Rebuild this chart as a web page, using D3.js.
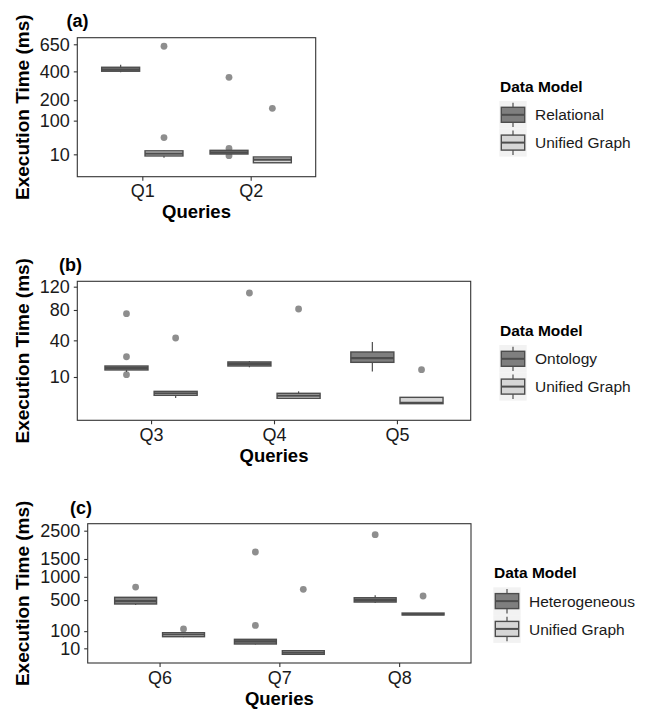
<!DOCTYPE html>
<html>
<head>
<meta charset="utf-8">
<script src="https://cdn.jsdelivr.net/npm/d3@7"></script>
<style>
  body { margin: 0; background: #fff; }
  text { font-family: "Liberation Sans", Arial, sans-serif; }
</style>
</head>
<body>
<svg id="chart" width="646" height="710"></svg>
<script>
// ---- panel (a) ----
const queriesA = ["Q1", "Q2"];
const modelsA = ["Relational", "Unified Graph"];
// per query, per model: [lower whisker, q1, median, q3, upper whisker]
const statsA = [
  [[393, 401, 415, 434, 456], [6.1, 8, 11, 15, 15]],
  [[10.4, 10.4, 12.5, 15.8, 15.8], [2.1, 2.1, 4.3, 6.9, 6.9]]
];
const outliersA = [
  [[], [630, 43]],
  [[353, 19, 8.3], [156]]
];
const ticksA = [10, 100, 200, 400, 650];

// ---- panel (b) ----
const queriesB = ["Q3", "Q4", "Q5"];
const modelsB = ["Ontology", "Unified Graph"];
const statsB = [
  [[12.9, 14.2, 15.5, 16.9, 16.9], [1.8, 2.5, 3.1, 3.7, 3.7]],
  [[16, 16.9, 18.5, 19.9, 20.6], [1.75, 1.75, 2.4, 3.08, 3.7]],
  [[13.3, 19.6, 23, 28.3, 38.2], [0.74, 0.74, 0.85, 1.98, 1.98]]
];
const outliersB = [
  [[74.4, 24.1, 11.3], [42.6]],
  [[108.4], [81.5]],
  [[], [14.4]]
];
const ticksB = [10, 40, 80, 120];

// ---- panel (c) ----
const queriesC = ["Q6", "Q7", "Q8"];
const modelsC = ["Heterogeneous", "Unified Graph"];
const statsC = [
  [[416, 433, 484, 551, 551], [58, 60.7, 75, 88, 88]],
  [[22, 23.8, 35, 45.5, 45.5], [0.6, 0.6, 2, 4.9, 6]],
  [[450, 466, 500, 543, 589], [270, 270, 282, 296, 296]]
];
const outliersC = [
  [[760], [118]],
  [[1723, 151], [711]],
  [[2343], [576]]
];
const ticksC = [10, 100, 500, 1000, 1500, 2500];

const fills = ["#7f7f7f", "#d6d6d6"];
const lineColor = "#4d4d4d";

const svg = d3.select("#chart");

function drawPanel(o) {
  const g = svg.append("g");

  const x = d3.scalePoint()
    .domain(o.queries)
    .range([o.left, o.right])
    .padding(0.6);
  const step = x.step();
  const dodge = d3.scaleBand()
    .domain(o.models)
    .range([-0.375 * step, 0.375 * step])
    .paddingInner(0.125);

  const y = d3.scaleSqrt()
    .domain(o.yDomain)
    .range([o.bottom, o.top]);

  // boxes
  o.queries.forEach((q, qi) => {
    o.models.forEach((m, mi) => {
      const s = o.stats[qi][mi];
      const bx = x(q) + dodge(m);
      const bw = dodge.bandwidth();
      const cx = bx + bw / 2;
      const box = g.append("g");

      box.selectAll("circle")
        .data(o.outliers[qi][mi])
        .join("circle")
        .attr("cx", cx)
        .attr("cy", d => y(d))
        .attr("r", 3.4)
        .attr("fill", "#7a7a7a")
        .attr("fill-opacity", 0.85);

      box.append("line")
        .attr("x1", cx).attr("x2", cx)
        .attr("y1", y(s[0])).attr("y2", y(s[4]))
        .attr("stroke", lineColor)
        .attr("stroke-width", 1.2);

      box.append("rect")
        .attr("x", bx)
        .attr("width", bw)
        .attr("y", y(s[3]))
        .attr("height", Math.max(0.5, y(s[1]) - y(s[3])))
        .attr("fill", fills[mi])
        .attr("stroke", lineColor)
        .attr("stroke-width", 1.4);

      box.append("line")
        .attr("x1", bx).attr("x2", bx + bw)
        .attr("y1", y(s[2])).attr("y2", y(s[2]))
        .attr("stroke", lineColor)
        .attr("stroke-width", 2.2);
    });
  });

  // border
  g.append("rect")
    .attr("x", o.left).attr("y", o.top)
    .attr("width", o.right - o.left)
    .attr("height", o.bottom - o.top)
    .attr("fill", "none")
    .attr("stroke", "#333")
    .attr("stroke-width", 1.1);

  // axes
  const yAxis = g.append("g")
    .attr("transform", `translate(${o.left},0)`)
    .call(d3.axisLeft(y).tickValues(o.ticks).tickSize(3.5).tickPadding(4).tickFormat(d3.format("d")));
  const xAxis = g.append("g")
    .attr("transform", `translate(0,${o.bottom})`)
    .call(d3.axisBottom(x).tickSize(4).tickPadding(4));
  [yAxis, xAxis].forEach(a => {
    a.select(".domain").remove();
    a.selectAll(".tick line").attr("stroke", "#333").attr("stroke-width", 1.1);
    a.selectAll(".tick text")
      .attr("font-size", 18)
      .attr("fill", "#1a1a1a")
      .style("font-family", '"Liberation Sans", Arial, sans-serif');
  });

  // titles
  g.append("text")
    .attr("transform", `translate(${o.yTitleX},${(o.top + o.bottom) / 2}) rotate(-90)`)
    .attr("text-anchor", "middle")
    .attr("font-size", 19)
    .attr("font-weight", "bold")
    .text("Execution Time (ms)");

  g.append("text")
    .attr("x", (o.left + o.right) / 2)
    .attr("y", o.xTitleY)
    .attr("text-anchor", "middle")
    .attr("font-size", 18.5)
    .attr("font-weight", "bold")
    .text("Queries");

  g.append("text")
    .attr("x", o.tag[0]).attr("y", o.tag[1])
    .attr("font-size", 18)
    .attr("font-weight", "bold")
    .text(o.tagText);

  // legend
  const lg = svg.append("g")
    .attr("transform", `translate(${o.legend[0]},${o.legend[1]})`);
  lg.append("text")
    .attr("x", 0.7).attr("y", -9)
    .attr("font-size", 15.5)
    .attr("font-weight", "bold")
    .text("Data Model");
  const keyH = 27.8, keyW = 27.4;
  o.models.forEach((m, i) => {
    const k = lg.append("g").attr("transform", `translate(0,${i * keyH})`);
    k.append("rect")
      .attr("width", keyW).attr("height", keyH)
      .attr("fill", "#f2f2f2");
    k.append("line")
      .attr("x1", keyW / 2).attr("x2", keyW / 2)
      .attr("y1", 1.7).attr("y2", keyH - 1.7)
      .attr("stroke", lineColor).attr("stroke-width", 1.2);
    k.append("rect")
      .attr("x", 2).attr("y", 6.3)
      .attr("width", keyW - 4).attr("height", 15)
      .attr("fill", fills[i])
      .attr("stroke", lineColor).attr("stroke-width", 1.4);
    k.append("line")
      .attr("x1", 2).attr("x2", keyW - 2)
      .attr("y1", 13.8).attr("y2", 13.8)
      .attr("stroke", lineColor).attr("stroke-width", 2);
    k.append("text")
      .attr("x", keyW + 8.3)
      .attr("y", keyH / 2)
      .attr("dy", "0.36em")
      .attr("font-size", 15.5)
      .attr("fill", "#1a1a1a")
      .text(m);
  });
}

drawPanel({
  queries: queriesA, models: modelsA, stats: statsA, outliers: outliersA, ticks: ticksA,
  left: 77.3, right: 315.7, top: 37.7, bottom: 176.7,
  yDomain: [-1.9, 720],
  yTitleX: 29, xTitleY: 218, tag: [66.5, 26.5], tagText: "(a)",
  legend: [499.3, 101]
});

drawPanel({
  queries: queriesB, models: modelsB, stats: statsB, outliers: outliersB, ticks: ticksB,
  left: 77.3, right: 470.7, top: 281.3, bottom: 420.3,
  yDomain: [-0.33, 130.4],
  yTitleX: 29, xTitleY: 461.5, tag: [59, 271], tagText: "(b)",
  legend: [499.3, 345]
});

drawPanel({
  queries: queriesC, models: modelsC, stats: statsC, outliers: outliersC, ticks: ticksC,
  left: 87.7, right: 471, top: 523.7, bottom: 663,
  yDomain: [-7.2, 2786],
  yTitleX: 29, xTitleY: 705, tag: [70, 514], tagText: "(c)",
  legend: [493.3, 587.3]
});
</script>
</body>
</html>
